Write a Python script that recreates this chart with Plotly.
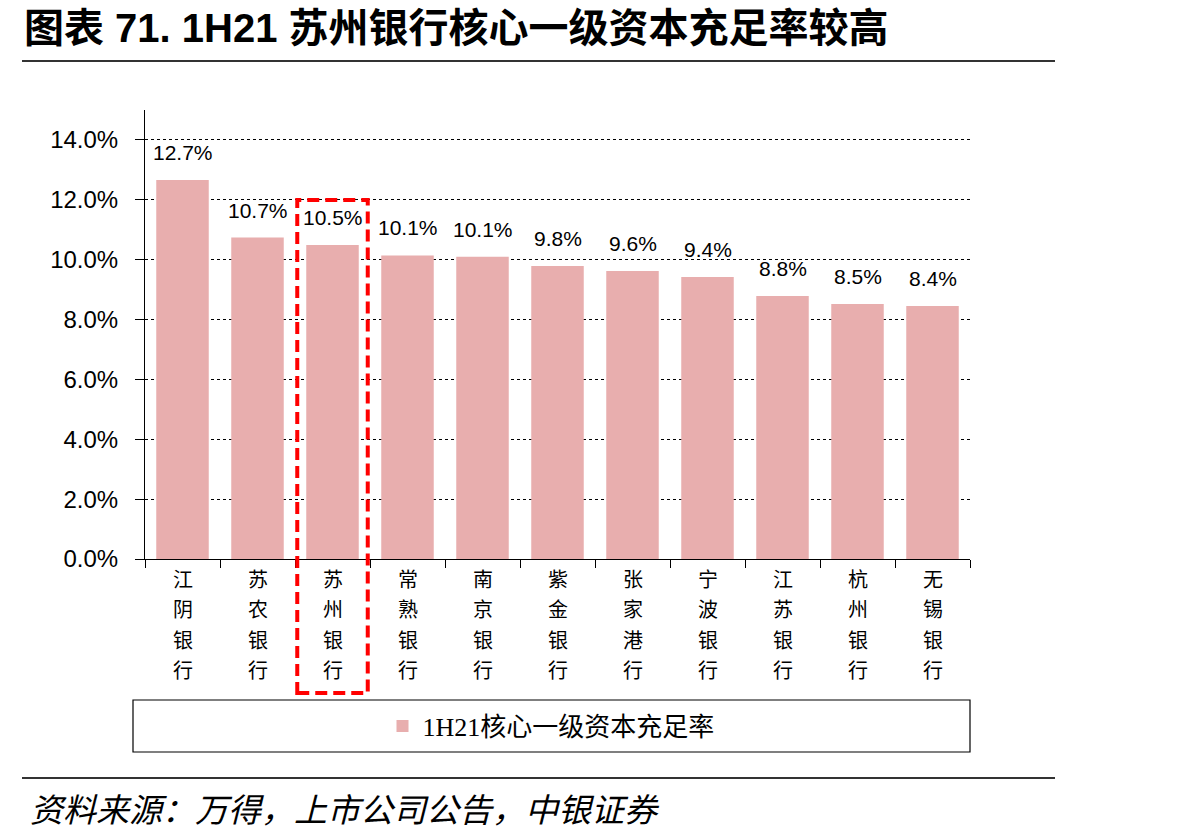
import plotly.graph_objects as go

banks = ["江阴银行", "苏农银行", "苏州银行", "常熟银行", "南京银行", "紫金银行",
         "张家港行", "宁波银行", "江苏银行", "杭州银行", "无锡银行"]
ratios = [12.66, 10.74, 10.49, 10.14, 10.10, 9.79, 9.62, 9.42, 8.79, 8.52, 8.45]
series_name = "1H21核心一级资本充足率"
highlight = "苏州银行"
y_ticks = [0, 2, 4, 6, 8, 10, 12, 14]
y_tick_text = [f"{v:.1f}%" for v in y_ticks]

title_text = "图表 71. 1H21 苏州银行核心一级资本充足率较高"
source_text = "资料来源：万得，上市公司公告，中银证券"

W, H = 1180, 838
L, R, T, B = 145, 970, 110, 559

def px_x(px):
    return (px - L) / (R - L)

def px_y(py):
    return (B - py) / (B - T)

num_font = "Liberation Sans, Arial"

fig = go.Figure()
fig.add_trace(go.Bar(
    x=banks, y=ratios, name=series_name,
    marker=dict(color="#E8AEAE", line=dict(width=0)),
    width=0.7,
))

for b, v in zip(banks, ratios):
    fig.add_annotation(x=b, y=v, text=f"{v:.1f}%", showarrow=False,
                       yanchor="bottom", yshift=14,
                       font=dict(family=num_font, size=21, color="#000"))

# vertical category labels, one character per line
for b in banks:
    for k, ch in enumerate(b):
        fig.add_annotation(x=b, y=0, text=ch, showarrow=False,
                           yanchor="middle", yshift=-(19 + 30.5 * k),
                           font=dict(family="Noto Sans CJK SC", size=20, color="#000"))

# highlight box
hi = banks.index(highlight)
fig.add_shape(type="rect", xref="x", yref="paper",
              x0=hi - 0.47, x1=hi + 0.47, y0=px_y(693), y1=px_y(200),
              line=dict(color="#FF0000", width=4, dash="12px,6px"),
              fillcolor="rgba(0,0,0,0)", layer="above")

# legend box
fig.add_shape(type="rect", xref="paper", yref="paper",
              x0=px_x(133), x1=px_x(970), y0=px_y(752), y1=px_y(700),
              line=dict(color="#000", width=1.2))

# title / source lines
fig.add_shape(type="line", xref="paper", yref="paper",
              x0=px_x(22), x1=px_x(1055), y0=px_y(61), y1=px_y(61),
              line=dict(color="#333", width=2))
fig.add_shape(type="line", xref="paper", yref="paper",
              x0=px_x(22), x1=px_x(1055), y0=px_y(778), y1=px_y(778),
              line=dict(color="#333", width=2))

fig.add_annotation(xref="paper", yref="paper", x=px_x(22), y=px_y(28),
                   xanchor="left", yanchor="middle", showarrow=False,
                   text="<b>" + title_text + "</b>",
                   font=dict(family="Liberation Sans, Noto Sans CJK SC", size=40, color="#000"))
fig.add_annotation(xref="paper", yref="paper", x=px_x(28), y=px_y(808),
                   xanchor="left", yanchor="middle", showarrow=False,
                   text="<i>" + source_text + "</i>",
                   font=dict(family="Noto Sans CJK SC", size=33, color="#000"))

fig.update_layout(
    width=W, height=H,
    margin=dict(l=L, r=W - R, t=T, b=H - B, pad=0),
    paper_bgcolor="white", plot_bgcolor="white",
    showlegend=True,
    legend=dict(x=px_x(551), y=px_y(726), xanchor="center", yanchor="middle",
                orientation="h", bgcolor="rgba(0,0,0,0)",
                font=dict(family="Liberation Serif, Noto Sans CJK SC", size=26, color="#000")),
    bargap=0.3,
)
fig.update_xaxes(
    type="category", showticklabels=False,
    showline=True, linecolor="#000", linewidth=1,
    ticks="outside", tickson="boundaries", ticklen=8, tickcolor="#000",
    showgrid=False,
)
fig.update_yaxes(
    range=[0, 15], tickvals=y_ticks, ticktext=y_tick_text,
    showline=True, linecolor="#000", linewidth=1,
    ticks="outside", ticklen=9, tickcolor="#000",
    showgrid=True, gridcolor="#000", gridwidth=1, griddash="dot",
    zeroline=False,
    ticklabelstandoff=12,
    tickfont=dict(family=num_font, size=24, color="#000"),
)

fig.write_html("out.html")
